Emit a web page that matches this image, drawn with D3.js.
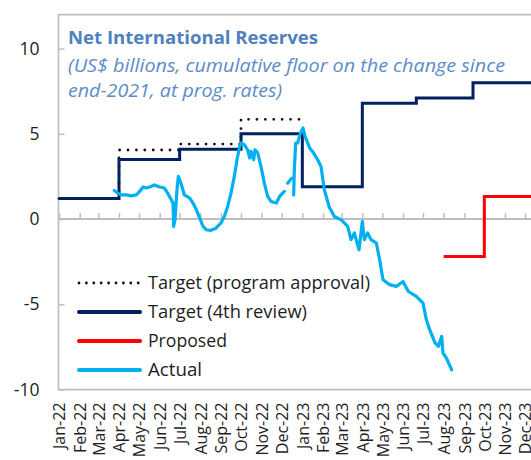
<!DOCTYPE html>
<html>
<head>
<meta charset="utf-8">
<script src="https://cdn.jsdelivr.net/npm/d3@7"></script>
<style>
  html, body { margin: 0; padding: 0; background: #fff; }
  svg { display: block; font-family: "Open Sans", "Noto Sans", sans-serif; }
</style>
</head>
<body>
<svg id="chart" width="531" height="460"></svg>
<script>
// ---------- DATA ----------
const monthLabels = ["Jan-22","Feb-22","Mar-22","Apr-22","May-22","Jun-22","Jul-22","Aug-22","Sep-22","Oct-22","Nov-22","Dec-22",
                     "Jan-23","Feb-23","Mar-23","Apr-23","May-23","Jun-23","Jul-23","Aug-23","Sep-23","Oct-23","Nov-23","Dec-23"];
const yTicks = [-10, -5, 0, 5, 10];

const seriesNames = ["Target (program approval)", "Target (4th review)", "Proposed", "Actual"];

// step series: value holds from the given date onward
const targetProgramDates  = ["2022-01-01","2022-04-01","2022-07-01","2022-10-01","2022-12-31"];
const targetProgramValues = [1.2, 4.05, 4.4, 5.85, 5.85];

const target4thDates  = ["2022-01-01","2022-04-01","2022-07-01","2022-10-01","2023-01-01","2023-04-01","2023-06-21","2023-09-14","2024-03-01"];
const target4thValues = [1.2, 3.5, 4.1, 5.0, 1.9, 6.8, 7.1, 8.0, 8.0];

const proposedDates  = ["2023-08-01","2023-10-01","2024-03-01"];
const proposedValues = [-2.2, 1.33, 1.33];

// actual (null = gap in the data)
const actualDates = ["2022-03-25","2022-03-30","2022-04-04","2022-04-12","2022-04-19","2022-04-27","2022-05-02","2022-05-07","2022-05-12","2022-05-19",
  "2022-05-24","2022-06-01","2022-06-08","2022-06-13","2022-06-17","2022-06-21","2022-06-22","2022-06-24","2022-06-27","2022-06-29",
  "2022-07-03","2022-07-08","2022-07-16","2022-07-21","2022-07-26","2022-07-31","2022-08-05","2022-08-10","2022-08-16","2022-08-24",
  "2022-09-01","2022-09-06","2022-09-11","2022-09-16","2022-09-21","2022-09-25","2022-09-29","2022-10-01","2022-10-06","2022-10-11",
  "2022-10-14","2022-10-16","2022-10-20","2022-10-22","2022-10-26","2022-10-31","2022-11-05","2022-11-10","2022-11-15","2022-11-23",
  "2022-11-28","2022-12-05","2022-12-07","2022-12-10","2022-12-16","2022-12-17","2022-12-19","2022-12-20","2022-12-22","2022-12-25",
  "2022-12-29","2023-01-02","2023-01-05","2023-01-12","2023-01-18","2023-01-24","2023-01-29","2023-02-03","2023-02-10","2023-02-18",
  "2023-02-28","2023-03-10","2023-03-15","2023-03-20","2023-03-27","2023-04-01","2023-04-04","2023-04-09","2023-04-14","2023-04-22",
  "2023-04-27","2023-05-02","2023-05-12","2023-05-22","2023-06-01","2023-06-09","2023-06-21","2023-07-01","2023-07-06","2023-07-11",
  "2023-07-19","2023-07-24","2023-07-29","2023-07-31","2023-08-05","2023-08-13"];
const actualValues = [1.68, 1.52, 1.42, 1.42, 1.36, 1.42, 1.62, 1.88, 1.82, 1.91,
  2.0, 1.88, 1.82, 1.52, 1.23, 0.94, -0.43, -0.04, 1.72, 2.5,
  2.1, 1.42, 1.23, 0.94, 0.55, 0.06, -0.43, -0.63, -0.67, -0.55,
  -0.23, 0.15, 0.74, 1.52, 2.5, 3.48, 4.26, 4.46, 4.36, 4.06,
  3.58, 3.97, 3.48, 4.06, 3.9, 3.08, 2.11, 1.33, 1.03, 0.94,
  1.33, 1.62, null, 2.1, 2.4, null, 1.42, 2.9, 4.46, 4.46,
  5.04, 5.34, 4.85, 4.17, 3.87, 3.48, 3.08, 1.72, 0.74, 0.15,
  -0.04, -0.43, -1.21, -0.82, -1.8, -0.14, -1.21, -0.82, -1.21, -1.41,
  -2.39, -3.56, -3.85, -3.95, -3.66, -4.25, -4.54, -4.93, -5.9, -6.49,
  -7.27, -7.47, -6.89, -7.86, -8.15, -8.84];

const titleText = "Net International Reserves";
const subtitleLines = ["(US$ billions, cumulative floor on the change since", "end-2021, at prog. rates)"];

// ---------- CHART ----------
const parse = d3.timeParse("%Y-%m-%d");
const toPts = (ds, vs) => ds.map((d, i) => ({ date: parse(d), value: vs[i] }));

const svg = d3.select("#chart");
const plotLeft = 58.5, plotTop = 14.5, plotBottom = 389.5, plotRight = 531;

const x = d3.scaleTime()
  .domain([parse("2022-01-01"), parse("2023-12-01")])
  .range([59, 525]);
const y = d3.scaleLinear().domain([-10, 12]).range([plotBottom, plotTop]);

const grey = "#bfbfbf";

// frame
svg.append("path")
  .attr("d", `M${plotRight},${plotTop}H${plotLeft}V${plotBottom}H${plotRight}`)
  .attr("fill", "none").attr("stroke", grey).attr("stroke-width", 1.75);

// y axis
const yAxis = svg.append("g")
  .attr("transform", `translate(${plotLeft},0)`)
  .call(d3.axisLeft(y).tickValues(yTicks).tickSizeInner(-6).tickSizeOuter(0).tickPadding(19).tickFormat(d => String(d)));
yAxis.select(".domain").remove();
yAxis.selectAll(".tick line").attr("stroke", grey).attr("stroke-width", 1.5);
yAxis.selectAll(".tick text")
  .attr("fill", "#1e1e1e").attr("font-size", 17.5).attr("font-family", "'Open Sans', sans-serif");

// month ticks (on the zero line)
const monthDates = monthLabels.map((m, i) => d3.timeMonth.offset(parse("2022-01-01"), i));
const zeroAxis = svg.append("g")
  .attr("transform", `translate(0,${y(0)})`)
  .call(d3.axisBottom(x).tickValues(monthDates).tickSizeInner(-6).tickSizeOuter(0).tickFormat(""));
zeroAxis.select(".domain").attr("d", `M${plotLeft},0H${plotRight}`).attr("stroke", grey).attr("stroke-width", 2);
zeroAxis.selectAll(".tick line").attr("stroke", grey).attr("stroke-width", 1.5);

// month labels along bottom
const labelAxis = svg.append("g")
  .attr("transform", `translate(0,${plotBottom})`)
  .call(d3.axisBottom(x).tickValues(monthDates).tickSize(0).tickFormat((d, i) => monthLabels[i]));
labelAxis.select(".domain").remove();
labelAxis.selectAll(".tick text")
  .attr("transform", "rotate(-90)")
  .attr("text-anchor", "end")
  .attr("x", -13).attr("y", 0).attr("dy", "0.36em")
  .attr("fill", "#1e1e1e").attr("font-size", 16).attr("font-family", "'Open Sans', sans-serif");

// lines
const stepLine = d3.line().x(d => x(d.date)).y(d => y(d.value)).curve(d3.curveStepAfter);
const plainLine = d3.line().defined(d => d.value !== null).x(d => x(d.date)).y(d => y(d.value));

svg.append("path")
  .datum(toPts(targetProgramDates, targetProgramValues))
  .attr("d", stepLine).attr("fill", "none")
  .attr("stroke", "#111").attr("stroke-width", 2.8)
  .attr("stroke-dasharray", "0,8.4").attr("stroke-linecap", "round");

svg.append("path")
  .datum(toPts(target4thDates, target4thValues))
  .attr("d", stepLine).attr("fill", "none")
  .attr("stroke", "#002060").attr("stroke-width", 3);

svg.append("path")
  .datum(toPts(proposedDates, proposedValues))
  .attr("d", stepLine).attr("fill", "none")
  .attr("stroke", "#ff0000").attr("stroke-width", 3);

svg.append("path")
  .datum(toPts(actualDates, actualValues))
  .attr("d", plainLine).attr("fill", "none")
  .attr("stroke", "#00b0f0").attr("stroke-width", 3.2).attr("stroke-linejoin", "round").attr("stroke-linecap", "round");

// title
svg.append("text").attr("x", 68).attr("y", 44)
  .attr("fill", "#4f81bd").attr("font-weight", "bold").attr("font-size", 18.5)
  .attr("textLength", 250).attr("lengthAdjust", "spacingAndGlyphs")
  .text(titleText);
const subLens = [437, 214];
subtitleLines.forEach((t, i) => {
  svg.append("text").attr("x", 68).attr("y", 72 + i * 25)
    .attr("fill", "#5b8cc8").attr("font-style", "italic").attr("font-size", 18)
    .attr("textLength", subLens[i]).attr("lengthAdjust", "spacingAndGlyphs")
    .text(t);
});

// legend
const legendStyles = [
  { stroke: "#111", width: 2.8, dash: "0,7.4", cap: "round" },
  { stroke: "#002060", width: 4, dash: null, cap: "round" },
  { stroke: "#ff0000", width: 4, dash: null, cap: "round" },
  { stroke: "#00b0f0", width: 4, dash: null, cap: "round" }
];
const legendLens = [222, 159, 79, 54];
const legend = svg.append("g");
seriesNames.forEach((name, i) => {
  const ly = 283 + i * 29;
  const s = legendStyles[i];
  const ln = legend.append("line").attr("x1", 79).attr("x2", 140).attr("y1", ly).attr("y2", ly)
    .attr("stroke", s.stroke).attr("stroke-width", s.width).attr("stroke-linecap", s.cap);
  if (s.dash) ln.attr("stroke-dasharray", s.dash);
  legend.append("text").attr("x", 148).attr("y", ly).attr("dy", "0.36em")
    .attr("fill", "#1e1e1e").attr("font-size", 18)
    .attr("textLength", legendLens[i]).attr("lengthAdjust", "spacingAndGlyphs")
    .text(name);
});
</script>
</body>
</html>
